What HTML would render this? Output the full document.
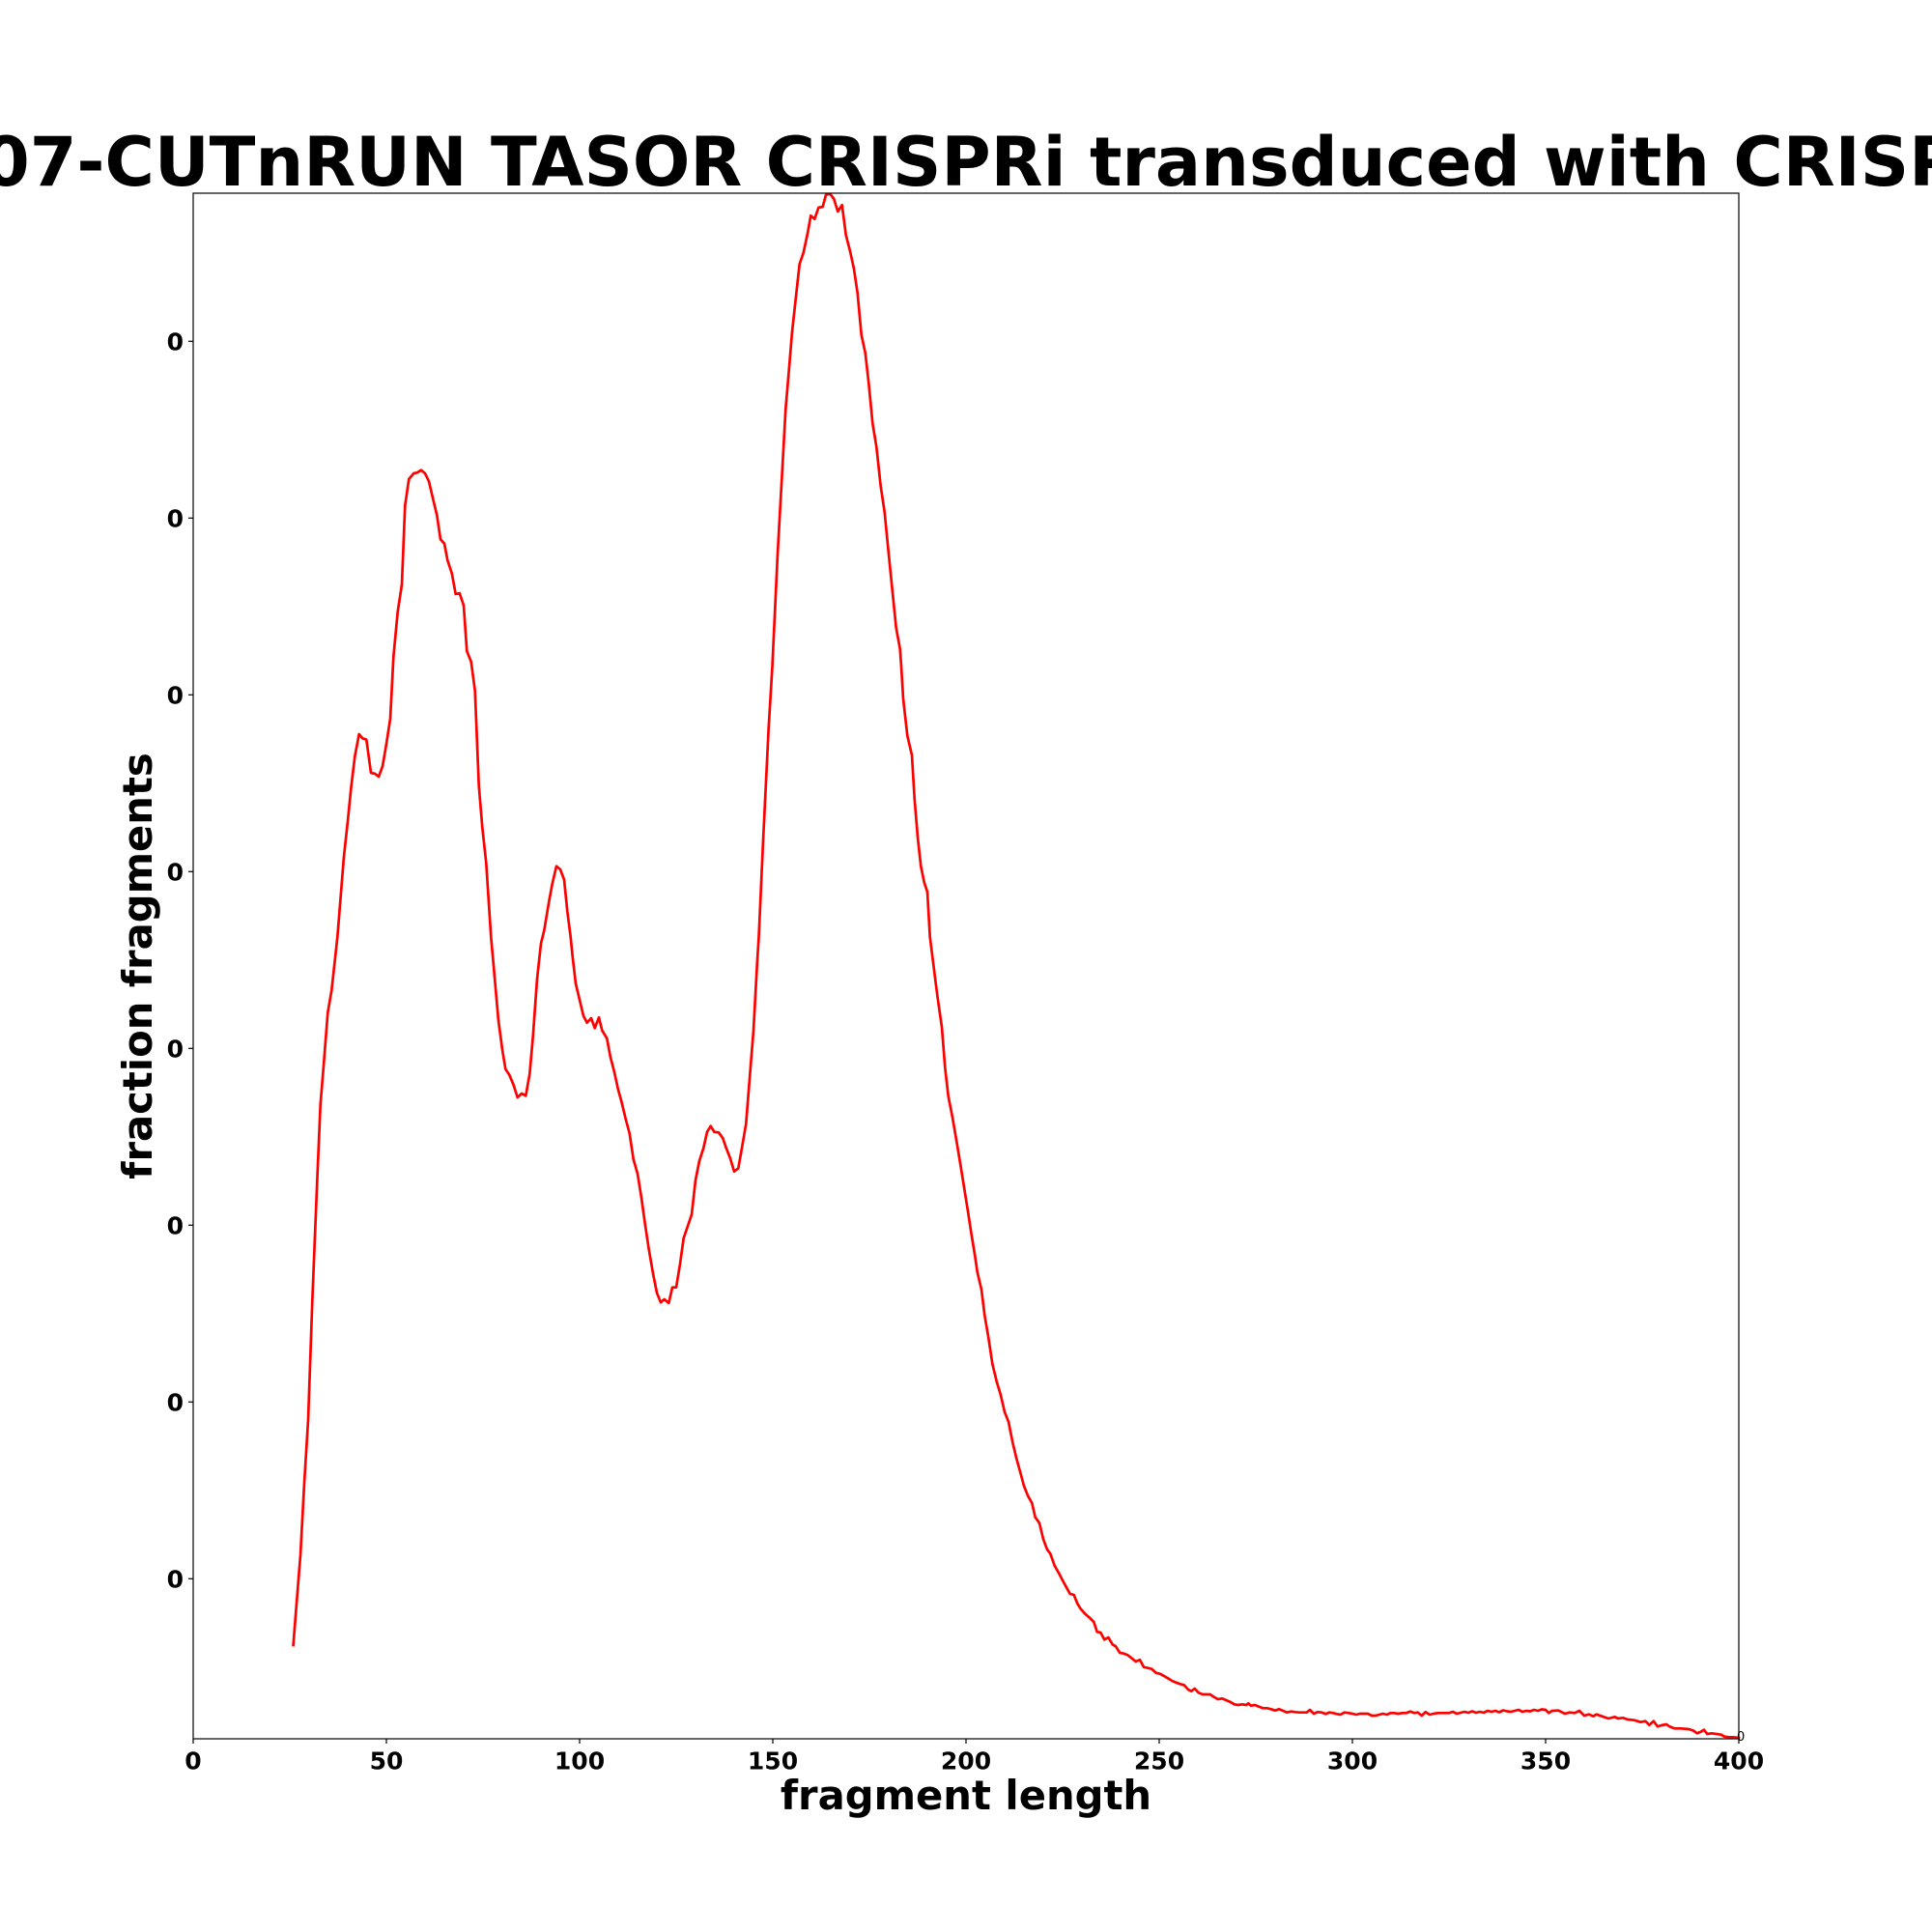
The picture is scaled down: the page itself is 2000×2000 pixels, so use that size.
<!DOCTYPE html>
<html>
<head>
<meta charset="utf-8">
<style>
  html, body { margin:0; padding:0; background:#fff; }
  svg { display:block; }
  text { font-family: "DejaVu Sans", "Liberation Sans", sans-serif; fill:#000; }
</style>
</head>
<body>
<svg width="2000" height="2000" viewBox="0 0 2000 2000" xmlns="http://www.w3.org/2000/svg">
  <rect x="0" y="0" width="2000" height="2000" fill="#fff"/>

  <!-- Title -->
  <text x="-18" y="192" font-size="70" font-weight="bold">07-CUTnRUN TASOR CRISPRi transduced with CRISPRi sgRNA</text>

  <!-- Curve -->
  <path fill="none" stroke="#ff0000" stroke-width="2.7" stroke-linejoin="round" stroke-linecap="square"
    d="M303.6,1703 L307,1660 311,1610 315,1535 319,1470 323.3,1346.7 328.3,1223.3 331.7,1143.3 335,1103.3 339.3,1048.3 343.3,1025 349.3,970 356,886.7 360,850 363.3,816.7 367.3,783.3 371.7,760 375.3,764.3 379.3,765.7 384,800 388.3,801 392,804 396,793.3 400,770 404,744 407.3,680 411.7,633.3 416,605 419.3,523.3 423.3,496 428.3,490 431.7,489.3 436,486.7 440,490 444,498.3 448.3,516.7 452.3,533.3 456,558.3 460,562.7 463.3,580 467.7,593.3 471.7,615 475.7,614 480,626.7 483.3,674 487.7,685 491.7,715 495.7,813.3 499.3,856.7 503.3,893.3 508.3,970 511,1000 516,1056.7 520,1086.7 523.3,1106.7 527.3,1112.7 531.7,1123.3 535.7,1136 540,1132 544.3,1134.3 548.3,1111.7 551.7,1073.3 556,1013.3 560,976.7 563.3,963.3 568.3,933.3 571.7,915 576,896.7 580,900 584,910.7 587.3,943.3 590.7,970 592.7,990 596,1018.3 600,1035 604,1051.7 607.7,1058.7 612,1054 615.7,1064.3 620,1053.3 623.3,1066.7 628.3,1075 631.7,1093.3 636,1110 640,1128.3 643.3,1140 647.7,1158.3 651.7,1173.3 655.7,1200 660,1215 664,1240 667.7,1266.7 671.7,1293.3 676,1318.3 680,1338.3 684,1348.3 687.7,1345 692.3,1349 696,1332.7 700,1332.7 704,1308.3 707.7,1281.7 711.7,1270 716,1257.3 720,1221.7 724,1201.7 728.3,1188.3 732,1171.7 735.7,1165.7 739.3,1171.7 744,1172.3 748.3,1178.3 751.7,1188.3 756,1199.3 760,1212.7 764.3,1209.3 768.3,1186.7 772.3,1163.3 776,1116.7 780,1066.7 784,993.3 785.5,970 790,870 795.7,753.3 799.5,690 805,573.3 810,483.3 813.3,423.3 816.7,383.3 820,343.3 824,306.7 827.7,273.3 831.7,261.7 836,241.7 839.3,223.3 843.3,226.7 847.3,215 851.7,214 855,201.7 859.3,200.7 863.3,206 867.3,219 871.7,212.3 875.7,243.3 880,260 884,278.3 887.7,303.3 891.7,346.7 895.7,365 899.3,396.7 903.3,438.3 907.3,462.7 911.7,503.3 915.7,530 919.3,566.7 923.3,606.7 927.7,650 931.7,671.7 933,690 935,723.3 939.3,761.7 944,781.7 946.7,826.7 950,866.7 953.3,896.7 956.7,913.3 960,923.3 962.7,970 967.7,1010 970.7,1033.3 975,1063.3 978.3,1105 981.7,1135 986,1156.7 990,1180 994,1204 998,1229 1002,1254 1005.5,1277 1009.3,1300 1011.7,1316.7 1016,1335 1019.3,1361.7 1023.3,1385 1027.3,1411.7 1031.7,1430 1035.7,1443.3 1040,1461.7 1044,1471.7 1048.3,1493.3 1052.3,1510 1056,1523.3 1060,1538.3 1064,1548.3 1068.3,1556 1071.7,1570.7 1076,1576.7 1080,1593.3 1084,1604 1087.3,1608.3 1091.7,1620.7 1096,1628.3 1100,1636 1104,1643.3 1107.7,1650 1111.7,1651 1115,1659.3 1118.3,1665 1123.3,1670.7 1128.3,1675 1132.3,1679 1135.7,1689.3 1139.3,1690 1143.3,1697.3 1147.3,1695 1151.7,1702.3 1155,1704.3 1159.3,1711 1163.3,1711.7 1167.3,1713.3 1171.7,1716.7 1175.7,1720 1180,1718.3 1184,1725.7 1188.3,1726.7 1192.3,1727.7 1196.7,1731.7 1200.7,1732.7 1205,1735 1209,1737.3 1213.3,1740 1217.3,1741.7 1221.7,1743.3 1225.7,1744.3 1230,1749 1233.3,1750.7 1236.7,1748 1240.7,1752.3 1245,1754 1249.3,1754 1252.7,1754 1256.7,1756.7 1260.7,1759 1265,1758.3 1269.3,1760 1273.3,1761.7 1277.7,1764.3 1281.7,1765 1286,1764.3 1290,1765 1292.3,1763.3 1295,1765.7 1299,1765 1303.3,1766.7 1307.3,1768.3 1311.7,1768.3 1315.7,1769.3 1320,1770.7 1324,1769.3 1328.3,1771 1332.3,1772.7 1336.7,1771.7 1340.7,1772.3 1345,1772.7 1349,1772.7 1352.7,1772.7 1356,1770 1360,1774 1364,1772.3 1368.3,1772.7 1372.3,1774.3 1376,1772.7 1380,1773.3 1384,1774.3 1387.7,1775 1391.7,1772.7 1396,1773.3 1400,1774 1404,1775 1407.7,1774 1411.7,1774 1416,1774 1420,1776 1424,1776 1427.7,1775 1431.7,1774 1435.7,1775 1439.3,1773.3 1443.3,1773.3 1447.3,1774 1451.7,1773.3 1455.7,1773.3 1460,1771.7 1464,1773.3 1467.7,1772.7 1471.7,1776 1475.7,1772.3 1480,1775 1484,1774 1488.3,1773.3 1492.7,1773.3 1496.7,1773.3 1500,1773.3 1504,1772 1508,1774 1512,1773 1516,1772 1520,1773 1524,1771.5 1528,1773 1532,1772 1536,1773 1540,1771 1544,1772 1548,1771 1552,1772.5 1556,1770.5 1560,1771.5 1564,1772 1568,1771 1572,1770 1576,1772 1580,1771 1584,1771.5 1588,1770 1592,1771 1596,1769.5 1600,1770 1603.3,1773.3 1606.7,1771 1613.3,1770.7 1620,1774 1625,1772.7 1630,1773.3 1635,1771 1640,1776 1645,1774.7 1649.3,1776.7 1652.7,1774.7 1658.3,1776.7 1665,1779 1671.7,1777.3 1675,1779 1680,1778.3 1685,1780 1691.7,1780.7 1698.3,1782.7 1703.3,1781.7 1707.3,1785.7 1711.7,1781.7 1716,1787.3 1720,1786 1725,1785 1728.3,1787.3 1733.3,1789.3 1740,1789.3 1748.3,1790 1753.3,1791.7 1756.7,1794.3 1760.7,1792.7 1764,1790.7 1767.3,1795 1771.7,1794.3 1776.7,1795 1781.7,1795.7 1785,1797.7 1790,1798.3 1795,1798.3 1800,1799"/>

  <!-- small offset label at bottom right -->
  <text x="1798" y="1802" font-size="13" fill="#000">0</text>

  <!-- Axes frame -->
  <rect x="200" y="200" width="1600" height="1600" fill="none" stroke="#000" stroke-width="1.2"/>

  <!-- X ticks -->
  <g stroke="#000" stroke-width="1.2">
    <line x1="200" y1="1800" x2="200" y2="1805"/>
    <line x1="400" y1="1800" x2="400" y2="1805"/>
    <line x1="600" y1="1800" x2="600" y2="1805"/>
    <line x1="800" y1="1800" x2="800" y2="1805"/>
    <line x1="1000" y1="1800" x2="1000" y2="1805"/>
    <line x1="1200" y1="1800" x2="1200" y2="1805"/>
    <line x1="1400" y1="1800" x2="1400" y2="1805"/>
    <line x1="1600" y1="1800" x2="1600" y2="1805"/>
    <line x1="1800" y1="1800" x2="1800" y2="1805"/>
  </g>
  <g font-size="25" font-weight="bold" text-anchor="middle">
    <text x="200" y="1831.5">0</text>
    <text x="400" y="1831.5">50</text>
    <text x="600" y="1831.5">100</text>
    <text x="800" y="1831.5">150</text>
    <text x="1000" y="1831.5">200</text>
    <text x="1200" y="1831.5">250</text>
    <text x="1400" y="1831.5">300</text>
    <text x="1600" y="1831.5">350</text>
    <text x="1800" y="1831.5">400</text>
  </g>

  <!-- Y ticks -->
  <g stroke="#000" stroke-width="1.2">
    <line x1="195" y1="353.3" x2="200" y2="353.3"/>
    <line x1="195" y1="536.3" x2="200" y2="536.3"/>
    <line x1="195" y1="719.3" x2="200" y2="719.3"/>
    <line x1="195" y1="902.3" x2="200" y2="902.3"/>
    <line x1="195" y1="1085.3" x2="200" y2="1085.3"/>
    <line x1="195" y1="1268.3" x2="200" y2="1268.3"/>
    <line x1="195" y1="1451.3" x2="200" y2="1451.3"/>
    <line x1="195" y1="1634.3" x2="200" y2="1634.3"/>
  </g>
  <g font-size="25" font-weight="bold" text-anchor="end">
    <text x="190" y="362.4">0</text>
    <text x="190" y="545.4">0</text>
    <text x="190" y="728.4">0</text>
    <text x="190" y="911.4">0</text>
    <text x="190" y="1094.4">0</text>
    <text x="190" y="1277.4">0</text>
    <text x="190" y="1460.4">0</text>
    <text x="190" y="1643.4">0</text>
  </g>

  <!-- Axis labels -->
  <text x="1000" y="1873" font-size="41.7" font-weight="bold" text-anchor="middle">fragment length</text>
  <text transform="translate(157,1000) rotate(-90)" font-size="41.7" font-weight="bold" text-anchor="middle">fraction fragments</text>
</svg>
</body>
</html>
